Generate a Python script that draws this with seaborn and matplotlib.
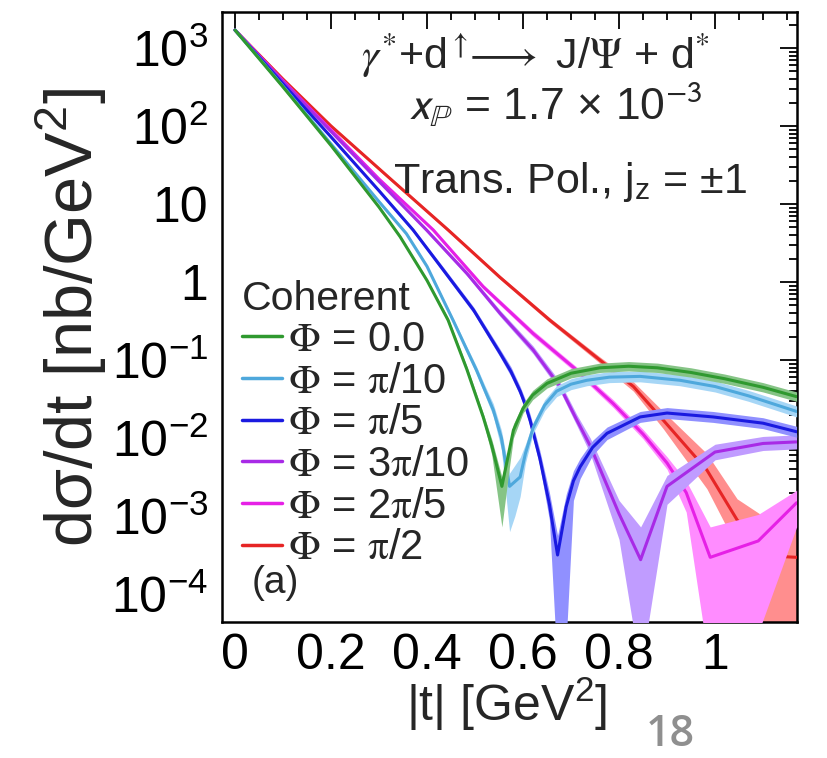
import numpy as np
import pandas as pd
import matplotlib
matplotlib.use("Agg")
import matplotlib.pyplot as plt
import seaborn as sns
from matplotlib.lines import Line2D
from matplotlib.font_manager import FontProperties
from matplotlib.ticker import FixedLocator, MultipleLocator, FuncFormatter, NullFormatter

# ---------------- data (log10 of dsigma/dt [nb/GeV^2]) ----------------
t_phi0 = [0, 0.1, 0.2, 0.3, 0.344, 0.4, 0.444, 0.483, 0.517, 0.535, 0.556, 0.57, 0.58, 0.6, 0.62,
          0.65, 0.7, 0.76, 0.82, 0.88, 0.95, 1.02, 1.1, 1.17]
lg_phi0 = [3.23, 2.50, 1.75, 0.96, 0.58, 0.02, -0.49, -1.12, -1.73, -2.10, -2.62, -2.20, -1.90, -1.62,
           -1.45, -1.30, -1.17, -1.10, -1.08, -1.10, -1.16, -1.24, -1.35, -1.47]
lo_phi0 = [3.21, 2.48, 1.73, 0.94, 0.56, 0.0, -0.52, -1.16, -1.78, -2.22, -3.14, -2.45, -2.0, -1.68,
           -1.51, -1.36, -1.23, -1.16, -1.14, -1.16, -1.22, -1.30, -1.41, -1.53]
hi_phi0 = [3.25, 2.52, 1.77, 0.98, 0.60, 0.04, -0.46, -1.08, -1.68, -2.02, -2.50, -2.12, -1.82, -1.56,
           -1.39, -1.24, -1.11, -1.04, -1.02, -1.04, -1.10, -1.18, -1.29, -1.41]

t_pi10 = [0, 0.1, 0.2, 0.3, 0.357, 0.4, 0.455, 0.48, 0.503, 0.52, 0.538, 0.555, 0.572, 0.583, 0.594,
          0.605, 0.621, 0.645, 0.67, 0.7, 0.733, 0.78, 0.844, 0.927, 1.0, 1.07, 1.17]
lg_pi10 = [3.23, 2.51, 1.77, 1.03, 0.62, 0.20, -0.50, -0.83, -1.13, -1.38, -1.64, -2.00, -2.62, -2.56,
           -2.50, -2.20, -1.87, -1.58, -1.40, -1.31, -1.26, -1.22, -1.21, -1.26, -1.34, -1.46, -1.66]
lo_pi10 = [3.21, 2.49, 1.75, 1.01, 0.60, 0.18, -0.53, -0.87, -1.18, -1.44, -1.72, -2.15, -3.20, -3.0,
           -2.75, -2.32, -1.94, -1.65, -1.47, -1.38, -1.33, -1.29, -1.28, -1.33, -1.41, -1.53, -1.73]
hi_pi10 = [3.25, 2.53, 1.79, 1.05, 0.64, 0.22, -0.47, -0.79, -1.08, -1.32, -1.56, -1.90, -2.45, -2.35,
           -2.25, -2.08, -1.80, -1.51, -1.33, -1.24, -1.19, -1.15, -1.14, -1.19, -1.27, -1.39, -1.59]

t_pi5 = [0, 0.1, 0.2, 0.3, 0.371, 0.434, 0.497, 0.552, 0.575, 0.594, 0.605, 0.615, 0.635, 0.655, 0.672,
         0.69, 0.705, 0.719, 0.745, 0.775, 0.844, 0.9, 0.996, 1.1, 1.17]
lg_pi5 = [3.23, 2.54, 1.86, 1.17, 0.667, 0.154, -0.36, -0.91, -1.15, -1.40, -1.58, -1.78, -2.26, -2.85,
          -3.50, -2.88, -2.55, -2.37, -2.12, -1.94, -1.73, -1.68, -1.73, -1.81, -1.92]
lo_pi5 = [3.21, 2.52, 1.84, 1.15, 0.64, 0.12, -0.40, -0.96, -1.21, -1.46, -1.65, -1.86, -2.36, -3.05,
          -5.0, -4.6, -2.80, -2.52, -2.22, -2.02, -1.80, -1.75, -1.80, -1.88, -1.99]
hi_pi5 = [3.25, 2.56, 1.88, 1.19, 0.69, 0.19, -0.32, -0.86, -1.09, -1.34, -1.51, -1.70, -2.16, -2.70,
          -3.25, -2.72, -2.42, -2.26, -2.03, -1.86, -1.66, -1.61, -1.66, -1.74, -1.85]

t_3pi10 = [0, 0.1, 0.2, 0.3, 0.399, 0.483, 0.552, 0.621, 0.677, 0.712, 0.74, 0.8, 0.845, 0.9, 1.0, 1.1, 1.17]
lg_3pi10 = [3.23, 2.57, 1.93, 1.29, 0.667, 0.11, -0.40, -0.87, -1.34, -1.77, -2.10, -2.97, -3.56, -2.62,
            -2.18, -2.07, -2.05]
lo_3pi10 = [3.21, 2.55, 1.91, 1.27, 0.64, 0.08, -0.44, -0.92, -1.40, -1.84, -2.2, -3.30, -5.0, -2.85,
            -2.28, -2.16, -2.14]
hi_3pi10 = [3.25, 2.59, 1.95, 1.31, 0.69, 0.14, -0.36, -0.82, -1.28, -1.70, -2.0, -2.80, -3.14, -2.48,
            -2.08, -1.98, -1.96]

t_2pi5 = [0, 0.1, 0.2, 0.3, 0.413, 0.517, 0.621, 0.712, 0.788, 0.85, 0.9, 0.94, 0.99, 1.09, 1.17]
lg_2pi5 = [3.23, 2.58, 1.95, 1.32, 0.667, -0.06, -0.66, -1.13, -1.56, -1.95, -2.32, -2.70, -3.53, -3.32, -2.83]
lo_2pi5 = [3.21, 2.56, 1.93, 1.30, 0.645, -0.09, -0.70, -1.17, -1.61, -2.01, -2.40, -2.95, -5.0, -4.5, -3.14]
hi_2pi5 = [3.25, 2.60, 1.97, 1.34, 0.69, -0.03, -0.62, -1.09, -1.51, -1.89, -2.24, -2.55, -3.14, -2.98, -2.67]

t_pi2 = [0, 0.1, 0.2, 0.326, 0.444, 0.552, 0.656, 0.76, 0.83, 0.892, 0.983, 1.046, 1.1, 1.14, 1.17]
lg_pi2 = [3.23, 2.60, 2.0, 1.31, 0.667, 0.06, -0.49, -1.0, -1.34, -1.77, -2.41, -3.05, -3.40, -3.52, -3.53]
lo_pi2 = [3.21, 2.58, 1.98, 1.29, 0.645, 0.035, -0.52, -1.04, -1.40, -1.88, -2.65, -3.40, -5.0, -5.0, -5.0]
hi_pi2 = [3.25, 2.62, 2.02, 1.33, 0.69, 0.085, -0.46, -0.96, -1.28, -1.66, -2.20, -2.78, -3.0, -3.05, -3.05]

labels = [r"$\mathrm{\Phi}$ = 0.0", r"$\mathrm{\Phi}$ = $\mathrm{\pi}$/10", r"$\mathrm{\Phi}$ = $\mathrm{\pi}$/5",
          r"$\mathrm{\Phi}$ = 3$\mathrm{\pi}$/10", r"$\mathrm{\Phi}$ = 2$\mathrm{\pi}$/5",
          r"$\mathrm{\Phi}$ = $\mathrm{\pi}$/2"]
line_colors = ["#2f992f", "#4ea8dc", "#1a1ae0", "#a82ae6", "#e620e6", "#e62525"]
band_colors = ["#86c486", "#a6d6f6", "#9090ff", "#c09cff", "#ff8cff", "#ff8e8e"]

y_decades = [1e-4, 1e-3, 1e-2, 1e-1, 1, 10, 1e2, 1e3]

series = [
    (t_phi0, lg_phi0, lo_phi0, hi_phi0),
    (t_pi10, lg_pi10, lo_pi10, hi_pi10),
    (t_pi5, lg_pi5, lo_pi5, hi_pi5),
    (t_3pi10, lg_3pi10, lo_3pi10, hi_3pi10),
    (t_2pi5, lg_2pi5, lo_2pi5, hi_2pi5),
    (t_pi2, lg_pi2, lo_pi2, hi_pi2),
]

# ---------------- style ----------------
sns.set_style("white")
plt.rcParams["font.family"] = ["Liberation Sans", "DejaVu Sans"]
plt.rcParams["mathtext.fontset"] = "custom"
plt.rcParams["mathtext.rm"] = "Liberation Sans"
plt.rcParams["mathtext.it"] = "Liberation Sans:italic"
plt.rcParams["mathtext.bf"] = "Liberation Sans:bold"
plt.rcParams["mathtext.sf"] = "Liberation Sans"
plt.rcParams["mathtext.fallback"] = "stix"

W, H = 828, 758
fig = plt.figure(figsize=(W / 100, H / 100), dpi=100)
fig.patch.set_facecolor("white")
L, R, T, B = 222, 797, 12, 622
ax = fig.add_axes([L / W, 1 - B / H, (R - L) / W, (B - T) / H])
ax.set_yscale("log")

# draw from last to first so that earlier series lie on top
n = len(series)
for k in range(n - 1, -1, -1):
    t, lg, lo, hi = series[k]
    z = 2 + 2 * (n - 1 - k)
    ax.fill_between(t, np.power(10.0, lo), np.power(10.0, hi), color=band_colors[k], lw=0, zorder=z)
    df = pd.DataFrame({"t": t, "dsdt": np.power(10.0, lg)})
    sns.lineplot(data=df, x="t", y="dsdt", color=line_colors[k], lw=2.2, ax=ax,
                 estimator=None, sort=False, zorder=z + 1, legend=False)

ax.set_xlim(-0.0271, 1.1708)
ax.set_ylim(10 ** -4.359, 10 ** 3.4615)

# ticks
ax.xaxis.set_major_locator(MultipleLocator(0.2))
ax.xaxis.set_minor_locator(MultipleLocator(0.05))
ax.xaxis.set_major_formatter(FuncFormatter(lambda v, p: f"{v:g}" if abs(v) > 1e-9 else "0"))
ax.yaxis.set_major_locator(FixedLocator(y_decades))
minor_y = [m * d for d in [1e-5] + y_decades for m in range(2, 10)]
minor_y = [v for v in minor_y if 10 ** -4.359 < v < 10 ** 3.4615]
ax.yaxis.set_minor_locator(FixedLocator(minor_y))
ax.yaxis.set_minor_formatter(NullFormatter())


def yfmt(v, pos):
    e = int(round(np.log10(v)))
    if e == 0:
        return "1"
    if e == 1:
        return "10"
    return "10$^{%d}$" % e


ax.yaxis.set_major_formatter(FuncFormatter(yfmt))
ax.tick_params(which="both", direction="in", top=True, right=True, colors="black", width=1.3)
ax.tick_params(which="major", length=12)
ax.tick_params(which="minor", length=6)
ax.tick_params(axis="y", which="major", labelsize=36, pad=10)
ax.tick_params(axis="x", which="major", labelsize=36, pad=8)
for sp in ax.spines.values():
    sp.set_color("black")
    sp.set_linewidth(1.8)

ax.set_xlabel("|t| [GeV$^{2}$]", fontsize=36)
ax.set_ylabel("d\u03c3/dt [nb/GeV$^{2}$]", fontsize=48)
ax.xaxis.set_label_coords(0.495, -0.135)
ax.xaxis.label.set_va("center")
ax.yaxis.set_label_coords(-0.262, 0.50)
ax.yaxis.label.set_va("center")

# legend
handles = [Line2D([], [], color=c, lw=2.5) for c in line_colors]
leg_prop = FontProperties(family="Liberation Sans", size=30, math_fontfamily="stix")
leg = ax.legend(handles, labels, loc="upper left", bbox_to_anchor=(0.035, 0.56), frameon=False,
                borderpad=0, borderaxespad=0, handlelength=0.95, handletextpad=0.15,
                labelspacing=0.04, prop=leg_prop, title="Coherent", alignment="left",
                title_fontproperties=FontProperties(family="Liberation Sans", size=29.5))
leg.set_zorder(30)

# annotations
fig.text(535 / W, 1 - 69 / H,
         r"$\gamma^{*}$+d$^{\uparrow}\!\!\longrightarrow$ J/$\mathrm{\Psi}$ + d$^{*}$",
         ha="center", va="baseline", fontsize=31, math_fontfamily="stix")
fig.text(555 / W, 1 - 121 / H, "$x_{\\mathbb{P}}$ = 1.7 \u00d7 10$^{-3}$",
         ha="center", va="baseline", fontsize=32, math_fontfamily="stixsans")
fig.text(570 / W, 1 - 193 / H, "Trans. Pol., j$_{\\mathrm{z}}$ = \u00b11",
         ha="center", va="baseline", fontsize=31)
fig.text(275 / W, 1 - 593 / H, "(a)", ha="center", va="baseline", fontsize=28)
fig.text(670 / W, 1.5 / H, "18", ha="center", va="bottom", fontsize=31, fontweight="semibold",
         color="#8f8f8f", family=["Open Sans", "DejaVu Sans"])

fig.savefig("out.png", dpi=100, facecolor="white")
